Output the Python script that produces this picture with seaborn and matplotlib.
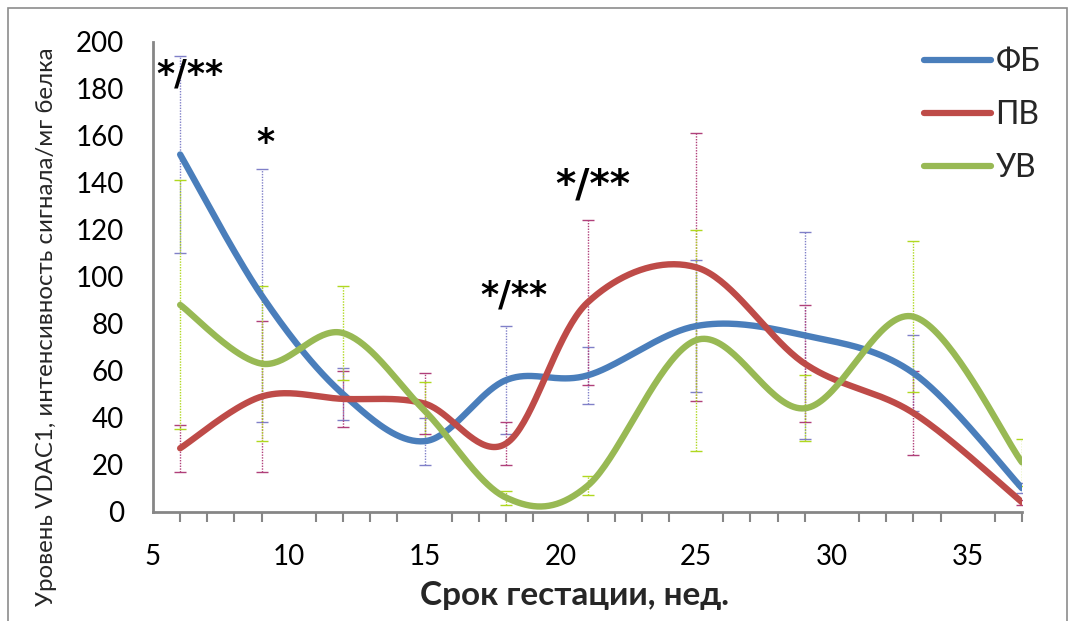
import numpy as np
import pandas as pd
import matplotlib
matplotlib.use("Agg")
import matplotlib.pyplot as plt
from matplotlib.patches import Rectangle
from matplotlib.lines import Line2D
import seaborn as sns

# ---- data ----
weeks = [6, 9, 12, 15, 18, 21, 25, 29, 33, 37]
series_names = ["ФБ", "ПВ", "УВ"]
fb_mean = [152, 92, 50, 30, 56, 58, 79, 75, 59, 10]
fb_err = [42, 54, 11, 10, 23, 12, 28, 44, 16, 2]
pv_mean = [27, 49, 48, 46, 29, 89, 104, 63, 42, 4]
pv_err = [10, 32, 12, 13, 9, 35, 57, 25, 18, 1]
uv_mean = [88, 63, 76, 43, 6, 11, 73, 44, 83, 21]
uv_err = [53, 33, 20, 12, 3, 4, 47, 14, 32, 10]
y_ticks = [0, 20, 40, 60, 80, 100, 120, 140, 160, 180, 200]
x_ticks = [5, 10, 15, 20, 25, 30, 35]
annotations = [("*/**", 6.35, 186, 25), ("*", 9.15, 157, 25), ("*/**", 21.2, 139, 28), ("*/**", 18.3, 92, 25)]

colors = ["#4a7ebb", "#be4b48", "#98b954"]
err_colors = ["#8080c8", "#b0407a", "#b0d820"]

sns.set_theme(style="white")
plt.rcParams['font.family'] = ['Lato', 'DejaVu Sans']


def excel_smooth(x, y, n=40):
    """Excel-like smoothed line (Catmull-Rom Bezier) through the data points."""
    P = np.column_stack([x, y]).astype(float)
    m = len(P)
    out = []
    for i in range(m - 1):
        p0 = P[i - 1] if i > 0 else P[i]
        p1 = P[i]
        p2 = P[i + 1]
        p3 = P[i + 2] if i + 2 < m else P[i + 1]
        c1 = p1 + (p2 - p0) / 6.0
        c2 = p2 - (p3 - p1) / 6.0
        t = np.linspace(0, 1, n, endpoint=(i == m - 2))[:, None]
        seg = ((1 - t) ** 3) * p1 + 3 * ((1 - t) ** 2) * t * c1 + 3 * (1 - t) * t ** 2 * c2 + t ** 3 * p2
        out.append(seg)
    out = np.vstack(out)
    return out[:, 0], out[:, 1]


fig = plt.figure(figsize=(10.72, 6.21), dpi=100)
ax = fig.add_axes([153 / 1072, 1 - 511.7 / 621, (1022 - 153) / 1072, (511.7 - 41.7) / 621])

means = [fb_mean, pv_mean, uv_mean]
errs = [fb_err, pv_err, uv_err]

# error bars (under the lines)
for m, e, ec in zip(means, errs, err_colors):
    eb = ax.errorbar(weeks, m, yerr=e, fmt='none', ecolor=ec, elinewidth=1.0,
                     capsize=4, capthick=1.0, zorder=1)
    for lc in eb[2]:
        lc.set_linestyle((0, (1, 1)))

# smoothed lines
frames = []
for name, m in zip(series_names, means):
    sx, sy = excel_smooth(weeks, m)
    frames.append(pd.DataFrame({"x": sx, "y": sy, "series": name}))
df = pd.concat(frames, ignore_index=True)
sns.lineplot(data=df, x="x", y="y", hue="series", palette=dict(zip(series_names, colors)),
             sort=False, estimator=None, units="series", linewidth=4.6, ax=ax,
             legend=False, zorder=3)
for ln in ax.lines:
    ln.set_solid_capstyle("round")

ax.set_xlim(5, 37)
ax.set_ylim(0, 200)
ax.set_xticks(x_ticks)
ax.set_xticks(np.arange(5, 38, 1), minor=True)
ax.set_yticks(y_ticks)
ax.tick_params(axis='both', which='major', labelsize=20, colors='#868686', labelcolor='black',
               direction='out', length=9, width=1.5)
ax.tick_params(axis='x', which='minor', direction='out', length=7, width=1.5, colors='#868686', bottom=True)
ax.tick_params(axis='x', pad=14)
ax.tick_params(axis='y', pad=12)
for s in ["top", "right"]:
    ax.spines[s].set_visible(False)
for s in ["left", "bottom"]:
    ax.spines[s].set_color("#868686")
    ax.spines[s].set_linewidth(2)
ax.grid(False)

ax.set_xlabel("Срок гестации, нед.", fontsize=24, fontweight='bold')
ax.xaxis.set_label_coords(0.485, -0.148)
ax.set_ylabel("Уровень VDAC1, интенсивность сигнала/мг белка", fontsize=17.3)
ax.yaxis.set_label_coords(-0.11, 0.393)

for txt, tx, ty, fs in annotations:
    ax.text(tx, ty, txt, fontsize=fs, ha='center', va='center', color='black',
            family=['DejaVu Sans'], fontweight='bold')

handles = [Line2D([0], [0], color=c, lw=4.5, solid_capstyle='round') for c in colors]
leg = ax.legend(handles, series_names, loc='upper left', bbox_to_anchor=(0.872, 1.015),
                frameon=False, fontsize=23, handlelength=2.1, handletextpad=0.15,
                labelspacing=0.72, borderaxespad=0)

fig.patches.append(Rectangle((8 / 1072, -0.01), (1067 - 8) / 1072, 1.01 - 8 / 621,
                             transform=fig.transFigure, fill=False, edgecolor='#8c8c8c',
                             linewidth=1.2, zorder=0))

fig.savefig("out.png", dpi=100)
